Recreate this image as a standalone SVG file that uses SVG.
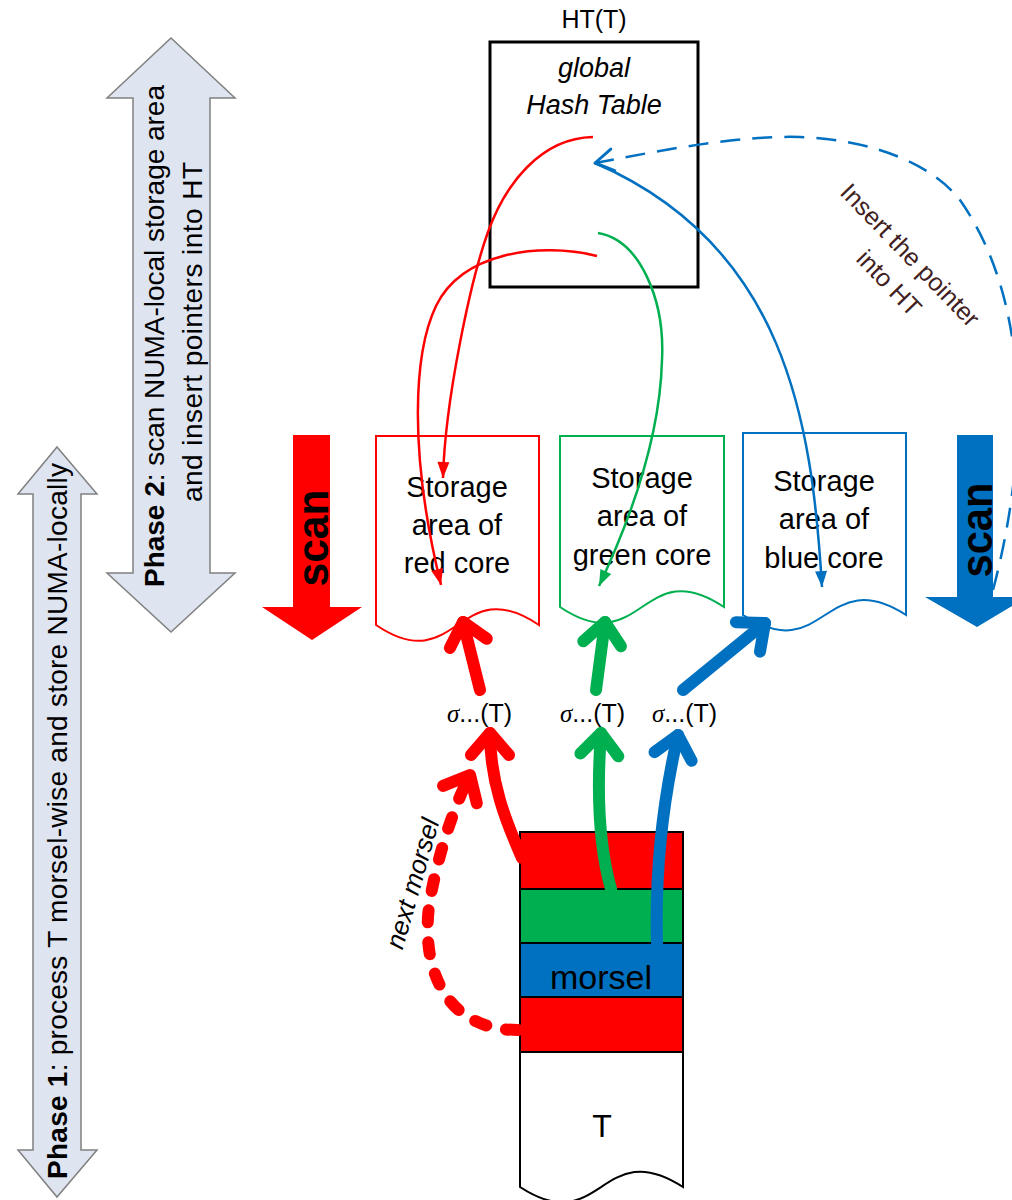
<svg xmlns="http://www.w3.org/2000/svg" width="1012" height="1200" viewBox="0 0 1012 1200">
<defs>
<style>
text{font-family:"Liberation Sans",Arial,sans-serif;fill:#000}
.store{font-size:29px;text-anchor:middle}
.ptxt{font-size:28px;text-anchor:middle}
.phase{fill:#dee4f0;stroke:#808080;stroke-width:1.5}
.scan{font-size:45px;font-weight:bold;text-anchor:middle}
.sig{font-size:25px}
.sym{font-family:"Liberation Serif",serif;font-style:italic}
.thin{fill:none;stroke-width:2.5}
.thick{fill:none;stroke-width:12;stroke-linecap:round;stroke-linejoin:round}
.band{stroke:#000;stroke-width:2}
.doc{fill:#fff;stroke-width:2}
.r{stroke:#ff0000}
.g{stroke:#00b050}
.b{stroke:#0070c0}
</style>
<marker id="thr" markerUnits="userSpaceOnUse" markerWidth="1" markerHeight="1" refX="0" refY="0" orient="auto" overflow="visible"><path d="M-22,-19 L0,0 L-22,19" fill="none" stroke="#ff0000" stroke-width="12" stroke-linecap="round" stroke-linejoin="round"/></marker>
<marker id="thg" markerUnits="userSpaceOnUse" markerWidth="1" markerHeight="1" refX="0" refY="0" orient="auto" overflow="visible"><path d="M-22,-19 L0,0 L-22,19" fill="none" stroke="#00b050" stroke-width="12" stroke-linecap="round" stroke-linejoin="round"/></marker>
<marker id="thb" markerUnits="userSpaceOnUse" markerWidth="1" markerHeight="1" refX="0" refY="0" orient="auto" overflow="visible"><path d="M-22,-19 L0,0 L-22,19" fill="none" stroke="#0070c0" stroke-width="12" stroke-linecap="round" stroke-linejoin="round"/></marker>
<marker id="trr" markerUnits="userSpaceOnUse" markerWidth="1" markerHeight="1" refX="0" refY="0" orient="auto" overflow="visible"><path d="M-16,-6 L0,0 L-16,6 Z" fill="#ff0000"/></marker>
<marker id="trg" markerUnits="userSpaceOnUse" markerWidth="1" markerHeight="1" refX="0" refY="0" orient="auto" overflow="visible"><path d="M-16,-6 L0,0 L-16,6 Z" fill="#00b050"/></marker>
<marker id="trb" markerUnits="userSpaceOnUse" markerWidth="1" markerHeight="1" refX="0" refY="0" orient="auto" overflow="visible"><path d="M-16,-6 L0,0 L-16,6 Z" fill="#0070c0"/></marker>
<marker id="vb" markerUnits="userSpaceOnUse" markerWidth="1" markerHeight="1" refX="0" refY="0" orient="auto" overflow="visible"><path d="M-18,-11 L0,0 L-18,11" fill="none" stroke="#0070c0" stroke-width="3" stroke-linecap="round" stroke-linejoin="round"/></marker>
</defs>
<rect width="1012" height="1200" fill="#fff"/>

<g id="phase1">
<path class="phase" d="M57,447 L97,494 L81,494 L81,1150 L97,1150 L57,1197 L18,1150 L33,1150 L33,494 L18,494 Z"/>
<text class="ptxt" transform="translate(67,821) rotate(-90)" textLength="716" lengthAdjust="spacing"><tspan font-weight="bold">Phase 1</tspan>: process T morsel-wise and store NUMA-locally</text>
</g>

<g id="phase2">
<path class="phase" d="M171,38 L235,98 L210,98 L210,573 L235,573 L171,632 L107,573 L133,573 L133,98 L107,98 Z"/>
<text class="ptxt" transform="translate(164,336) rotate(-90)" textLength="502" lengthAdjust="spacing"><tspan font-weight="bold">Phase 2</tspan>: scan NUMA-local storage area</text>
<text class="ptxt" transform="translate(202,332) rotate(-90)" textLength="340" lengthAdjust="spacing">and insert pointers into HT</text>
</g>

<g id="ht">
<text x="594" y="28" font-size="25" text-anchor="middle">HT(T)</text>
<rect x="490" y="42" width="208" height="245" fill="#fff" stroke="#000" stroke-width="3"/>
<text x="594" y="77" font-size="27" font-style="italic" text-anchor="middle">global</text>
<text x="594" y="114" font-size="27" font-style="italic" text-anchor="middle">Hash Table</text>
</g>

<g id="store-red">
<path class="doc r" d="M376,436 H539 V625 C457.5,570 457.5,680 376,625 Z"/>
<text class="store" x="457" y="497">Storage</text>
<text class="store" x="457" y="535">area of</text>
<text class="store" x="457" y="573">red core</text>
</g>
<g id="store-green">
<path class="doc g" d="M560,436 H724 V607 C642,552 642,662 560,607 Z"/>
<text class="store" x="642" y="488">Storage</text>
<text class="store" x="642" y="526">area of</text>
<text class="store" x="642" y="565">green core</text>
</g>
<g id="store-blue">
<path class="doc b" d="M743,433 H906 V615 C824.5,563 824.5,668 743,615 Z"/>
<text class="store" x="824" y="491">Storage</text>
<text class="store" x="824" y="529">area of</text>
<text class="store" x="824" y="568">blue core</text>
</g>

<g id="table-T">
<rect class="band" x="520" y="832" width="163" height="57" fill="#ff0000"/>
<rect class="band" x="520" y="889" width="163" height="54" fill="#00b050"/>
<rect class="band" x="520" y="943" width="163" height="54" fill="#0070c0"/>
<rect class="band" x="520" y="997" width="163" height="55" fill="#ff0000"/>
<path d="M520,1052 V1187 C601,1240 601,1134 683,1187 V1052 Z" fill="#fff" stroke="#000" stroke-width="2"/>
<text x="601" y="989" font-size="34" text-anchor="middle">morsel</text>
<text x="602" y="1137" font-size="32" text-anchor="middle">T</text>
</g>

<g id="connectors">
<path class="thin b" d="M993,590 C1030,450 1030,300 960,200 C935,168 880,140 800,137 C730,135 640,155 595,163" stroke-width="3" stroke-dasharray="20 12" marker-end="url(#vb)"/>
<path class="thin r" d="M593,137 C540,138 505,185 488,232 S445,400 443,478" marker-end="url(#trr)"/>
<path class="thin r" d="M597,256 C540,242 462,252 436,306 C414,352 408,450 441,585" marker-end="url(#trr)"/>
<path class="thin g" d="M598,233 C640,240 665,300 662,360 C660,440 630,520 599,586" marker-end="url(#trg)"/>
<path class="thin b" d="M595,163 C785,245 812,420 822,587" marker-end="url(#trb)"/>

<path class="thick r" d="M480,690 L463,622" marker-end="url(#thr)"/>
<path class="thick g" d="M596,690 L605,622" marker-end="url(#thg)"/>
<path class="thick b" d="M683,690 L765,623" marker-end="url(#thb)"/>
<path class="thick r" d="M522,858 C506,822 490,782 490,733" marker-end="url(#thr)"/>
<path class="thick g" d="M611,889 C600,850 596,800 601,733" marker-end="url(#thg)"/>
<path class="thick b" d="M657,943 C655,870 663,800 678,735" marker-end="url(#thb)"/>
<path class="thick r" d="M518,1030 C440,1030 420,960 430,900 C437,860 452,810 470,775" stroke-dasharray="12 20" marker-end="url(#thr)"/>
</g>

<g id="scan-red">
<path d="M293,435 H330 V607 H362 L312,640 L262,607 H293 Z" fill="#ff0000"/>
<text class="scan" transform="translate(328,538) rotate(-90)" textLength="97" lengthAdjust="spacingAndGlyphs">scan</text>
</g>
<g id="scan-blue">
<path d="M957,435 H993 V597 H1027 L977,627 L925,597 H957 Z" fill="#0070c0"/>
<text class="scan" transform="translate(992,530) rotate(-90)" textLength="95" lengthAdjust="spacingAndGlyphs">scan</text>
</g>

<g id="labels">
<text class="sig" x="447" y="722"><tspan class="sym">σ</tspan>...(T)</text>
<text class="sig" x="560" y="722"><tspan class="sym">σ</tspan>...(T)</text>
<text class="sig" x="652" y="722"><tspan class="sym">σ</tspan>...(T)</text>
<text font-size="26" font-style="italic" text-anchor="middle" transform="translate(421,886) rotate(-74)">next morsel</text>
<text font-size="25" text-anchor="middle" style="fill:#402020" transform="translate(904,261) rotate(46)">Insert the pointer</text>
<text font-size="25" text-anchor="middle" style="fill:#402020" transform="translate(883,289) rotate(46)">into HT</text>
</g>
</svg>
